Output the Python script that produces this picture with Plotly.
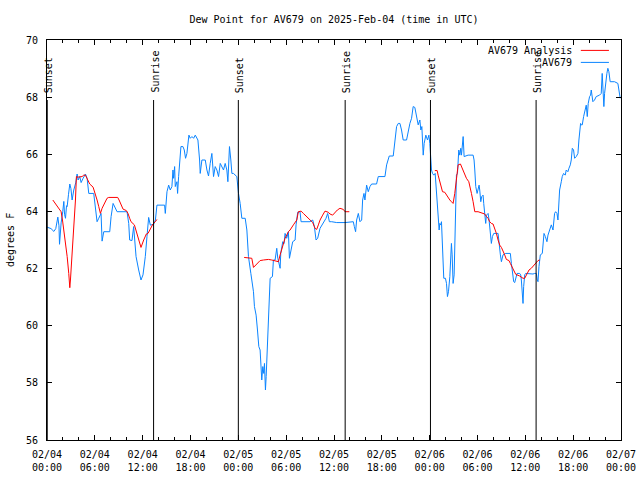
import plotly.graph_objects as go
import pandas as pd

BASE = pd.Timestamp("2025-02-04 00:00")
FONT = "DejaVu Sans Mono"

# ---- data (hours since 2025-02-04 00:00 UTC, dew point in F) ----
obs_hours = [0.0, 0.5, 0.86, 1.1, 1.36, 1.5, 1.57, 1.7, 1.77, 1.98, 2.11, 2.2, 2.32, 2.45, 2.53, 2.7, 2.86, 3.0,
             3.15, 3.36, 3.6, 3.78, 3.9, 4.11, 4.28, 4.53, 4.82, 5.03, 5.24, 5.86, 6.07, 6.28, 6.49, 6.78, 6.91,
             7.0, 7.12, 7.87, 8.04, 8.29, 8.58, 8.79, 10.04, 10.25, 10.37, 10.66, 10.87, 11.17, 11.5, 11.79,
             12.04, 12.33, 12.54, 12.75, 12.96, 13.38, 13.6, 13.79,
             14.75, 14.84, 15.05, 15.26, 15.46, 15.67, 15.8, 15.88, 16.01, 16.09, 16.3, 16.38, 16.51, 16.63,
             16.8, 17.05, 17.22, 17.38, 17.55, 17.8, 17.97, 18.18, 18.39, 18.6, 18.8, 18.93, 19.14, 19.22,
             19.43, 19.85, 20.06, 20.26, 20.47, 20.68, 20.89, 21.1, 21.31, 21.52, 21.73, 21.93, 22.14, 22.35,
             22.56, 22.69, 22.89, 23.06, 23.19, 23.39, 23.81, 24.02, 24.23, 24.44, 24.86, 25.07, 25.27, 25.57,
             25.9, 26.02, 26.23, 26.4, 26.57, 26.73, 26.94, 27.07, 27.19, 27.28, 27.4, 27.49, 27.61, 27.69,
             27.86, 27.99, 28.28, 28.4, 28.61, 28.82, 28.95, 29.15, 29.24, 29.32, 29.57, 29.74, 29.86, 30.07,
             30.28, 30.41, 30.57, 30.82, 31.12, 31.24, 31.45, 31.74, 31.87, 32.99, 33.33, 33.54, 33.75, 33.95,
             34.25, 34.66, 35.0, 35.21, 35.42, 35.71, 36.34, 37.38, 38.42, 38.55, 38.71, 38.84, 39.05, 39.26,
             39.47, 39.59, 39.76, 39.88, 40.09, 40.3, 40.51, 40.72, 41.34, 41.55, 42.39, 42.6, 42.8, 42.93,
             43.43, 43.56, 43.72, 43.85, 44.06, 44.27, 44.47, 44.68, 45.1, 45.31, 45.52, 45.73, 45.93, 46.14,
             46.35, 46.56, 46.77, 46.89, 47.02, 47.1, 47.19, 47.31, 47.52, 47.73, 47.9, 48.02, 48.11, 48.23,
             48.36, 48.52, 48.69, 48.86, 49.06, 49.19, 49.27, 49.4, 49.48, 49.57, 49.69, 49.77, 49.98, 50.11,
             50.23, 50.36, 50.53, 50.61, 50.73, 50.82, 50.86, 50.94, 51.07, 51.15, 51.28, 51.36, 51.49, 51.65,
             51.78, 51.9, 51.99, 52.11, 52.2, 52.32, 52.49, 52.82, 53.45, 53.57, 53.66, 53.78, 53.95, 54.07,
             54.2, 54.28, 54.41, 54.53, 54.7, 54.78, 54.91, 55.03, 55.12, 55.33, 55.45, 55.62, 55.74, 55.87,
             56.04, 56.58, 56.7, 56.87, 57.0, 57.2, 57.54, 58.12, 58.25, 58.37, 58.54, 58.67, 58.79, 58.96,
             59.29, 59.42, 59.5, 59.63, 59.71, 59.79, 59.92, 60.04, 60.54, 60.96, 61.17, 61.38, 61.5, 61.59,
             61.71, 61.88, 62.13, 62.21, 62.34, 62.51, 62.71, 62.84, 63.05, 63.26, 63.47, 63.67, 63.8, 63.97,
             64.09, 64.22, 64.3, 64.51, 64.63, 64.8, 65.01, 65.13, 65.34, 65.47, 65.64, 65.76, 65.89, 66.05,
             66.18, 66.39, 66.6, 66.72, 66.8, 66.93, 67.01, 67.14, 67.31, 67.43, 67.51, 67.64, 67.77, 67.89,
             68.06, 68.18, 68.27, 68.47, 68.68, 68.89, 69.31, 69.52, 69.64, 69.73, 69.85, 69.94, 70.06, 70.23,
             70.35, 70.48, 70.64, 70.98, 71.19, 71.61, 71.73, 71.82, 71.9]
obs_values = [63.45, 63.4, 63.3, 63.4, 63.8, 63.5, 62.85, 63.4, 63.6, 64.0, 64.35, 63.9, 63.76, 64.2, 64.17, 64.6,
              64.96, 64.8, 64.4, 64.75, 65.0, 65.31, 65.1, 65.22, 65.01, 65.16, 65.31, 65.16, 64.63, 64.63, 64.17,
              63.64, 63.76, 63.93, 62.96, 63.2, 63.29, 63.29, 63.82, 64.28, 64.11, 63.99, 63.99, 63.58, 63.0,
              62.98, 63.47, 62.42, 61.95, 61.6, 61.78, 62.42, 63.12, 63.79, 63.52, 63.55, 63.7, 64.22,
              64.22, 63.93, 64.69, 64.92, 64.75, 64.87, 65.45, 65.16, 65.57, 64.87, 65.04, 64.63, 65.22, 65.68,
              66.27, 66.27, 66.15, 65.86, 66.03, 66.67, 66.56, 66.62, 66.56, 66.67, 66.59, 66.5, 65.8, 65.33,
              65.8, 65.8, 65.45, 65.24, 65.68, 66.03, 65.22, 65.57, 65.45, 65.22, 65.68, 65.57, 65.45, 65.68,
              65.45, 65.04, 66.27, 65.8, 65.33, 65.33, 65.22, 64.63, 64.28, 63.76, 63.76, 63.35, 62.42, 61.83,
              61.19, 60.67, 60.37, 59.85, 59.27, 59.15, 58.1, 58.57, 58.33, 58.68, 57.75, 58.22, 59.03, 59.97,
              61.02, 61.66, 61.72, 62.3, 62.3, 62.71, 62.36, 62.18, 62.01, 62.53, 62.94, 62.88, 63.23, 63.06,
              63.29, 62.36, 62.65, 62.94, 63.0, 63.53, 63.97, 63.99, 63.64, 63.64, 63.7, 63.47, 63.0, 63.06,
              63.41, 63.58, 63.76, 63.93, 63.64, 63.64, 63.61, 63.61, 63.64, 63.47, 63.29, 63.7, 63.93, 63.64,
              63.7, 64.4, 64.63, 64.4, 64.92, 64.69, 64.87, 64.96, 64.96, 65.22, 65.22, 65.63, 65.8, 65.94,
              65.94, 66.27, 66.73, 66.97, 67.08, 67.08, 66.85, 66.5, 66.5, 66.85, 67.08, 67.26, 67.67, 67.64,
              67.32, 67.03, 67.2, 66.85, 66.97, 66.62, 65.97, 66.38, 66.67, 66.5, 66.67, 66.38, 65.8, 65.45,
              65.33, 65.27, 65.33, 64.7, 64.0, 63.35, 63.58, 63.53, 63.64, 63.12, 62.18, 61.66, 61.66, 61.48,
              61.02, 61.19, 61.72, 62.48, 62.88, 62.48, 61.72, 61.48, 61.78, 62.65, 64.11, 65.27, 65.33, 66.15,
              65.97, 66.21, 65.97, 66.5, 66.62, 65.92, 65.94, 65.97, 65.97, 65.8, 65.45, 64.87, 64.63, 64.81,
              64.92, 64.75, 64.34, 64.52, 64.57, 64.28, 63.93, 63.58, 63.87, 63.93, 63.7, 63.12, 62.88, 63.12,
              63.23, 63.23, 62.82, 62.48, 62.24, 62.48, 62.53, 62.53, 62.18, 61.83, 61.54, 61.51, 61.66, 61.83,
              61.83, 61.78, 61.6, 61.13, 60.78, 61.37, 61.78, 61.83, 61.81, 61.81, 61.83, 61.83, 61.6, 61.54,
              62.07, 62.48, 62.53, 62.88, 63.23, 63.12, 62.94, 63.17, 63.35, 63.53, 63.35, 63.93, 63.99, 63.93,
              63.7, 64.17, 64.75, 65.04, 65.22, 65.33, 65.27, 65.45, 65.39, 65.51, 65.63, 65.8, 66.21, 66.15,
              65.86, 65.92, 66.03, 66.5, 66.85, 67.08, 67.03, 67.03, 67.32, 67.49, 67.55, 67.72, 67.32, 67.78,
              68.02, 68.07, 68.25, 67.84, 67.9, 68.02, 68.07, 68.13, 68.83, 68.37, 67.67, 68.13, 68.48, 68.83,
              69.01, 68.89, 68.54, 68.54, 68.54, 68.48, 68.25, 68.07, 67.96]

ana_hours = [0.73, 1.06, 1.48, 1.77, 1.94, 2.11, 2.32, 2.53, 2.73, 2.86, 2.94, 3.07, 3.19, 3.32, 3.44, 3.57, 3.69,
             3.86, 4.4, 4.61, 4.82, 5.03, 5.36, 5.78, 6.07, 6.28, 6.49, 6.7, 6.91, 7.12, 7.33, 7.53, 7.74, 8.87,
             9.04, 9.2, 9.54, 9.95, 10.16, 10.37, 10.54, 10.96, 11.21, 11.5, 11.79, 12.13, 12.46, 12.67, 12.96,
             13.29, 13.59, 13.79, None,
             24.73, 25.69, 25.9, 26.32, 26.73, 27.15, 27.78, 28.2, 28.61, 29.03, 29.24, 29.45, 29.66, 29.86,
             30.28, 30.49, 30.91, 31.33, 31.53, 31.87, 32.16, 32.58, 33.0, 33.33, 33.62, 33.83, 34.04, 34.25,
             34.58, 34.87, 35.29, 35.5, 35.83, 36.13, 36.42, 36.75, 37.17, 37.38, 37.92, None,
             48.65, 48.94, 49.06, 49.27, 49.48, 49.61, 49.9, 50.11, 50.53, 50.73, 50.94, 51.15, 51.36, 51.57,
             51.86, 52.11, 52.32, 52.61, 52.91, 53.03, 53.24, 53.45, 53.66, 54.07, 54.49, 54.91, 55.12, 55.33,
             55.53, 55.74, 55.95, 56.16, 56.37, 56.58, 56.79, 57.0, 57.2, 57.41, 57.62, 57.95, 58.12, 58.37,
             58.58, 58.79, 59.29, 59.71, 59.92, 60.13, 60.46, 60.75, 60.96, 61.3, 61.59, 61.8]
ana_values = [64.4, 64.28, 64.11, 63.99, 63.7, 63.35, 62.94, 62.42, 61.83, 61.33, 61.6, 62.13, 62.71, 63.29, 63.82,
              64.4, 65.22, 65.2, 65.22, 65.27, 65.27, 65.16, 64.96, 64.85, 64.63, 64.4, 64.17, 63.93, 64.11, 64.22,
              64.34, 64.46, 64.49, 64.49, 64.4, 64.28, 64.08, 64.03, 63.93, 63.76, 63.64, 63.53, 63.29, 63.0,
              62.74, 63.0, 63.21, 63.23, 63.41, 63.56, 63.64, 63.72, None,
              62.39, 62.36, 62.04, 62.16, 62.28, 62.3, 62.32, 62.3, 62.28, 62.24, 62.48, 62.71, 62.94, 63.06,
              63.29, 63.35, 63.53, 63.7, 63.99, 64.01, 63.93, 63.82, 63.72, 63.61, 63.41, 63.37, 63.53, 63.7,
              63.87, 64.01, 63.97, 63.91, 63.87, 63.96, 64.05, 64.11, 64.07, 63.99, 63.99, None,
              65.43, 65.43, 65.27, 65.04, 64.81, 64.69, 64.67, 64.57, 64.4, 64.34, 64.28, 64.63, 65.27, 65.63,
              65.66, 65.51, 65.33, 65.16, 65.04, 64.92, 64.63, 64.34, 63.99, 63.99, 63.96, 63.91, 63.82, 63.76,
              63.64, 63.58, 63.56, 63.41, 63.23, 63.0, 62.82, 62.74, 62.63, 62.48, 62.32, 62.28, 62.18, 62.04,
              61.89, 61.8, 61.74, 61.66, 61.66, 61.78, 61.95, 62.01, 62.07, 62.18, 62.28, 62.3]

sun_event_hours = [0.03, 13.37, 24.0, 37.4, 48.1, 61.35]
sun_event_names = ["Sunset", "Sunrise", "Sunset", "Sunrise", "Sunset", "Sunrise"]

tick_hours = list(range(0, 73, 6))
y_ticks = [56, 58, 60, 62, 64, 66, 68, 70]
series_names = ["AV679 Analysis", "AV679"]
series_colors = ["#ff0000", "#0a84ff"]

FIG_W, FIG_H = 640, 480
PLOT_W = 574


def to_time(h):
    return None if h is None else BASE + pd.Timedelta(hours=h)


fig = go.Figure()
fig.add_trace(go.Scatter(x=[to_time(h) for h in obs_hours], y=obs_values, mode="lines",
                         line=dict(color=series_colors[1], width=1), name=series_names[1]))
fig.add_trace(go.Scatter(x=[to_time(h) for h in ana_hours], y=ana_values, mode="lines",
                         line=dict(color=series_colors[0], width=1), name=series_names[0],
                         connectgaps=False))

# sunrise / sunset markers
for h, name in zip(sun_event_hours, sun_event_names):
    t = to_time(h)
    fig.add_shape(type="line", xref="x", yref="paper", x0=t, x1=t, y0=0, y1=0.85,
                  line=dict(color="black", width=1))
    fig.add_annotation(x=t, xref="x", y=0.865, yref="paper", text=name, textangle=-90,
                       showarrow=False, xanchor="center", yanchor="bottom", xshift=1,
                       font=dict(family=FONT, size=10, color="black"), borderpad=0)

# legend drawn gnuplot-style (text then sample on the right)
for i, (nm, col) in enumerate(zip(series_names, series_colors)):
    ypos = 0.974 - i * 0.030
    fig.add_annotation(x=0.9164, xref="paper", y=ypos, yref="paper", text=nm, showarrow=False,
                       xanchor="right", yanchor="middle", font=dict(family=FONT, size=10, color="black"),
                       borderpad=0)
    fig.add_shape(type="line", xref="paper", yref="paper", x0=0.930, x1=0.979, y0=ypos, y1=ypos,
                  line=dict(color=col, width=1))

fig.update_layout(
    width=FIG_W, height=FIG_H,
    margin=dict(l=47, r=19, t=40, b=40, autoexpand=False),
    paper_bgcolor="white", plot_bgcolor="white",
    showlegend=False,
    font=dict(family=FONT, size=10, color="black"),
    title=dict(text="Dew Point for AV679 on 2025-Feb-04 (time in UTC)", x=0.5, xref="paper",
               y=1 - 19 / FIG_H, yref="container", yanchor="middle", xanchor="center",
               font=dict(family=FONT, size=10, color="black")),
)
fig.update_xaxes(
    type="date",
    range=[to_time(0), to_time(72)],
    tickvals=[to_time(h) for h in tick_hours],
    ticktext=[to_time(h).strftime("%m/%d") + "<br>" + to_time(h).strftime("%H:%M") for h in tick_hours],
    ticks="inside", ticklen=5, tickcolor="black", tickwidth=1,
    minor=dict(ticks="inside", ticklen=3, dtick=2 * 3600 * 1000, tickcolor="black", showgrid=False),
    showline=True, linecolor="black", linewidth=1, mirror="ticks",
    showgrid=False, zeroline=False,
    tickfont=dict(family=FONT, size=10, color="black"),
    ticklabelstandoff=5,
)
fig.update_yaxes(
    range=[56, 70], tickvals=y_ticks, ticktext=[str(v) for v in y_ticks],
    ticks="inside", ticklen=5, tickcolor="black", tickwidth=1,
    showline=True, linecolor="black", linewidth=1, mirror="ticks",
    showgrid=False, zeroline=False,
    tickfont=dict(family=FONT, size=10, color="black"),
    ticklabelstandoff=6,
)
fig.add_annotation(x=-(47 - 10) / PLOT_W, xref="paper", y=0.5, yref="paper", text="degrees F",
                   textangle=-90, showarrow=False, xanchor="center", yanchor="middle",
                   font=dict(family=FONT, size=10, color="black"))

# remove the default 8px page margin so the 640x480 figure fills the window exactly
fig.write_html("out.html", config={"displayModeBar": False},
               post_script="document.body.style.margin='0';")
